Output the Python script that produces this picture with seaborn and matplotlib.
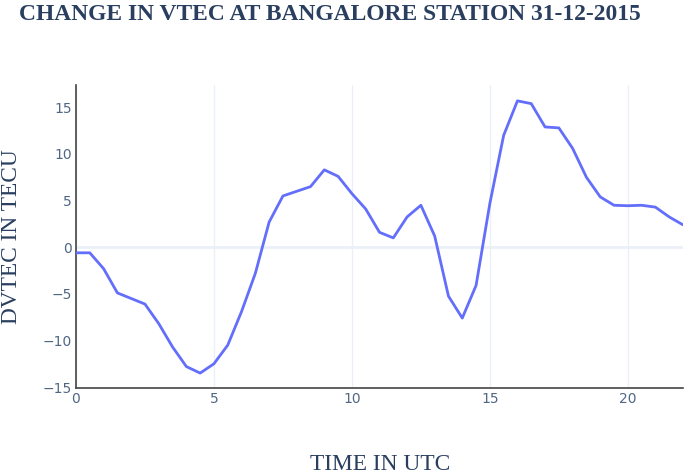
import matplotlib
matplotlib.use("Agg")
import seaborn as sns
import matplotlib.pyplot as plt
import pandas as pd

# half-hourly samples
time_utc = [0.0, 0.5, 1.0, 1.5, 2.0, 2.5, 3.0, 3.5, 4.0, 4.5, 5.0, 5.5,
            6.0, 6.5, 7.0, 7.5, 8.0, 8.5, 9.0, 9.5, 10.0, 10.5, 11.0, 11.5,
            12.0, 12.5, 13.0, 13.5, 14.0, 14.5, 15.0, 15.5, 16.0, 16.5, 17.0, 17.5,
            18.0, 18.5, 19.0, 19.5, 20.0, 20.5, 21.0, 21.5, 22.0]
dvtec = [-0.6, -0.6, -2.3, -4.9, -5.5, -6.1, -8.2, -10.7, -12.8, -13.5, -12.5, -10.5,
         -6.9, -2.8, 2.7, 5.5, 6.0, 6.5, 8.3, 7.6, 5.75, 4.1, 1.6, 1.0,
         3.25, 4.5, 1.2, -5.25, -7.6, -4.1, 4.7, 12.0, 15.7, 15.4, 12.9, 12.8,
         10.6, 7.5, 5.4, 4.5, 4.45, 4.5, 4.3, 3.25, 2.4]

df = pd.DataFrame({"time": time_utc, "dvtec": dvtec})

sns.set_style("white")
plt.rcParams["font.family"] = ["DejaVu Sans"]

fig = plt.figure(figsize=(6.85, 4.74), dpi=100)
ax = fig.add_axes([76 / 685, 1 - 388 / 474, (683 - 76) / 685, (388 - 85) / 474])

sns.lineplot(data=df, x="time", y="dvtec", color="#636efa", linewidth=2, ax=ax, zorder=3)

ax.set_xlim(0, 22)
ax.set_ylim(-15.1, 17.4)
ax.set_xticks([0, 5, 10, 15, 20])
ax.set_yticks([-15, -10, -5, 0, 5, 10, 15])
ax.set_yticklabels(["\u221215", "\u221210", "\u22125", "0", "5", "10", "15"])
# only vertical grid lines, plus the zero line
ax.grid(True, axis="x", color="#ebf0f8", linewidth=1)
ax.axhline(0, color="#ebf0f8", linewidth=2, zorder=1)
for s in ["top", "right"]:
    ax.spines[s].set_visible(False)
for s in ["left", "bottom"]:
    ax.spines[s].set_color("#444444")
    ax.spines[s].set_linewidth(1.2)
ax.tick_params(axis="both", labelsize=10, colors="#506784", length=0, pad=3)

serif = ["Liberation Serif", "DejaVu Serif"]
ax.set_xlabel("")
ax.set_ylabel("")
fig.text(380 / 685, 1 - 465 / 474, "TIME IN UTC", ha="center", va="center",
         fontsize=16.8, color="#2a3f5f", family=serif)
fig.text(12 / 685, 1 - 237 / 474, "DVTEC IN TECU", ha="center", va="center",
         rotation=90, fontsize=16.8, color="#2a3f5f", family=serif)
fig.text(19 / 685, 1 - 14 / 474, "CHANGE IN VTEC AT BANGALORE STATION 31-12-2015",
         ha="left", va="center", fontsize=16.9, fontweight="bold", color="#2a3f5f", family=serif)

fig.savefig("out.png", dpi=100)
